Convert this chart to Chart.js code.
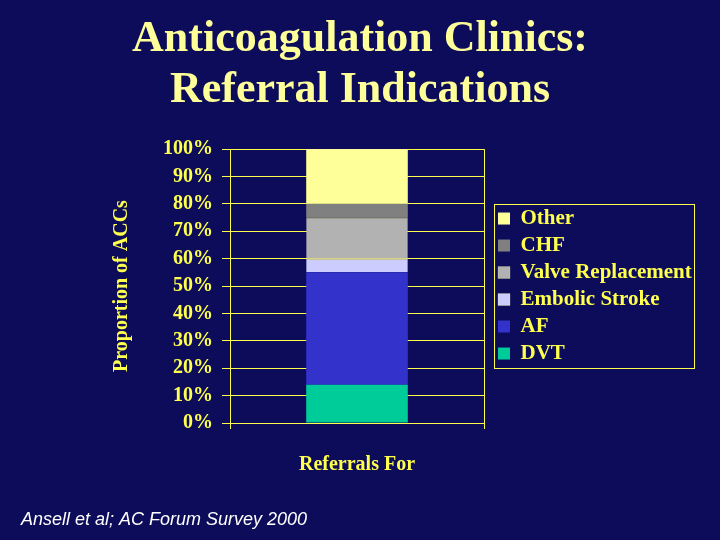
<!DOCTYPE html>
<html>
<head>
<meta charset="utf-8">
<script src="https://cdn.jsdelivr.net/npm/chart.js@4/dist/chart.umd.min.js"></script>
<style>
  html, body { margin: 0; padding: 0; background: #0C0C5A; }
  #wrap { width: 720px; height: 540px; position: relative; }
</style>
</head>
<body>
<div id="wrap"><canvas id="grafica"></canvas></div>
<script>
const categories = [''];
const seriesNames = ['DVT', 'AF', 'Embolic Stroke', 'Valve Replacement', 'CHF', 'Other'];
const dvt = [14];
const af = [41];
const embolic = [5];
const valve = [15];
const chf = [5];
const other = [20];
const seriesColors = ['#00CC99', '#3333CC', '#CCCCFF', '#B2B2B2', '#808080', '#FFFF99'];
const yTicks = [0, 10, 20, 30, 40, 50, 60, 70, 80, 90, 100];

const yellow = '#FFFF4D';
const serif = '"Liberation Serif", "Times New Roman", serif';

const values = [dvt, af, embolic, valve, chf, other];
// thin pale line on top of the embolic and valve segments, as in the slide
const topLine = [false, false, true, true, false, false];
const datasets = seriesNames.map((name, i) => ({
    label: name,
    data: values[i],
    backgroundColor: seriesColors[i],
    borderColor: '#FFFF80',
    borderWidth: topLine[i] ? { top: 1, bottom: 0, left: 0, right: 0 } : 0,
    borderSkipped: false,
    categoryPercentage: 1,
    barPercentage: 0.4
}));

// legend: wider box, nudged right, with a yellow frame round it
const legendFrame = {
    id: 'legendFrame',
    beforeUpdate(chart) {
        const lg = chart.legend;
        if (lg && !lg._wide) {
            const fit = lg.fit;
            lg.fit = function () { fit.call(this); this.width = 236; };
            lg._wide = true;
        }
    },
    afterLayout(chart) {
        chart.legend.left += 8;
    },
    afterDraw(chart) {
        const boxes = chart.legend.legendHitBoxes;
        if (!boxes || !boxes.length) return;
        let l = Infinity, t = Infinity, r = -Infinity, b = -Infinity;
        boxes.forEach(h => {
            l = Math.min(l, h.left); t = Math.min(t, h.top);
            r = Math.max(r, h.left + h.width); b = Math.max(b, h.top + h.height);
        });
        const ctx = chart.ctx;
        ctx.save();
        ctx.strokeStyle = yellow;
        ctx.lineWidth = 1;
        ctx.strokeRect(Math.round(l - 4) + 0.5, Math.round(t - 4) + 0.5, Math.round(r - l + 6), Math.round(b - t + 8));
        ctx.restore();
    }
};

const footnote = {
    id: 'footnote',
    afterDraw(chart) {
        const ctx = chart.ctx;
        ctx.save();
        ctx.font = 'italic 18px "Liberation Sans", Arial, sans-serif';
        ctx.fillStyle = '#FFFFFF';
        ctx.textBaseline = 'alphabetic';
        ctx.fillText('Ansell et al; AC Forum Survey 2000', 21, 525);
        ctx.restore();
    }
};

const graph = document.querySelector('#grafica');

new Chart(graph, {
    type: 'bar',
    data: { labels: categories, datasets: datasets },
    options: {
        responsive: true,
        maintainAspectRatio: false,
        animation: false,
        layout: { padding: { left: 0, right: 0, top: 0, bottom: 57 } },
        plugins: {
            title: {
                display: true,
                text: ['Anticoagulation Clinics:', 'Referral Indications'],
                color: '#FFFF99',
                font: { family: serif, size: 44, weight: 'bold', lineHeight: 1.16 },
                padding: { top: 14, bottom: 33 }
            },
            legend: {
                position: 'right',
                fullSize: false,
                reverse: true,
                align: 'center',
                labels: {
                    color: yellow,
                    font: { family: serif, size: 21, weight: 'bold' },
                    boxWidth: 12,
                    boxHeight: 12,
                    padding: 6
                }
            },
            tooltip: { enabled: false }
        },
        scales: {
            x: {
                stacked: true,
                grid: { color: yellow, offset: true, tickLength: 6 },
                border: { color: yellow },
                ticks: { display: false },
                title: {
                    display: true,
                    text: 'Referrals For',
                    color: yellow,
                    font: { family: serif, size: 20, weight: 'bold' },
                    padding: { top: 0, bottom: 6 }
                },
                afterFit(scale) { scale.height = 60; }
            },
            y: {
                stacked: true,
                min: 0,
                max: 100,
                afterBuildTicks(scale) { scale.ticks = yTicks.map(v => ({ value: v })); },
                ticks: {
                    color: yellow,
                    padding: 9,
                    font: { family: serif, size: 20, weight: 'bold' },
                    callback: v => v + '%'
                },
                grid: { color: yellow, tickLength: 8 },
                border: { color: yellow },
                title: {
                    display: true,
                    text: 'Proportion of ACCs',
                    color: yellow,
                    font: { family: serif, size: 20, weight: 'bold' },
                    padding: { top: 110, bottom: 0 }
                },
                afterFit(scale) { scale.width = 230; }
            }
        }
    },
    plugins: [legendFrame, footnote]
});
</script>
</body>
</html>
